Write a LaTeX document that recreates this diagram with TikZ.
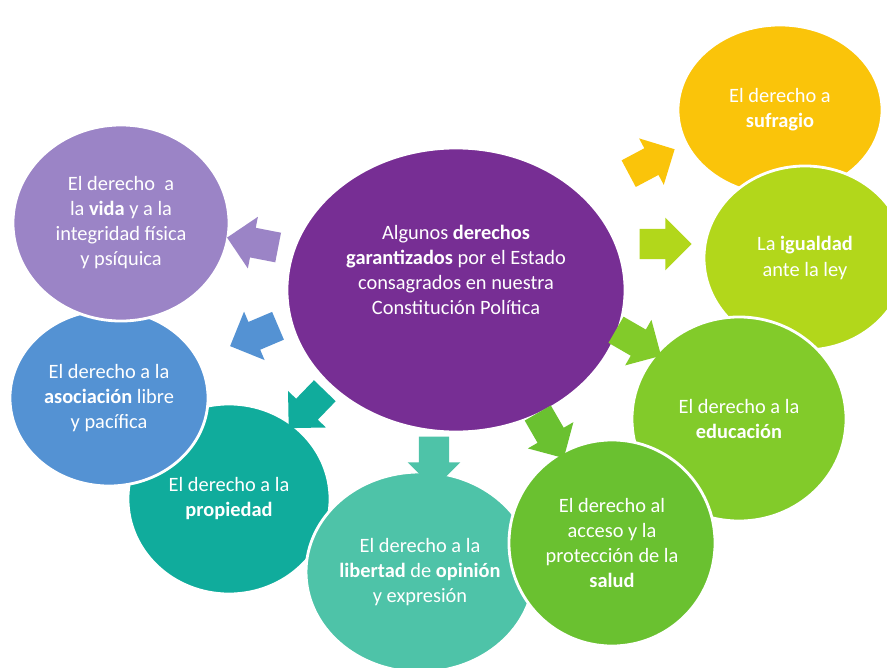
\documentclass[tikz,border=0pt]{standalone}
\usepackage{fontspec}
\setmainfont{Carlito}
\usetikzlibrary{shapes.geometric}
\usetikzlibrary{shapes.arrows}
\definecolor{cCentro}{RGB}{119,46,148}
\definecolor{cVida}{RGB}{155,132,198}
\definecolor{cAsoc}{RGB}{84,146,211}
\definecolor{cProp}{RGB}{16,172,156}
\definecolor{cLib}{RGB}{78,195,168}
\definecolor{cSalud}{RGB}{106,193,48}
\definecolor{cEduc}{RGB}{130,203,42}
\definecolor{cIgual}{RGB}{178,215,27}
\definecolor{cSufr}{RGB}{250,196,10}

\begin{document}
\begin{tikzpicture}[
				x=0.025cm, y=0.025cm,
				bubble/.style={ellipse, draw=white, line width=2pt, inner sep=0pt, text=white, align=center,
					font=\fontsize{14.5}{17.8}\selectfont},
				pointer/.style={single arrow, inner xsep=0pt, inner ysep=0.37cm, minimum height=1.3cm,
					minimum width=1.3cm, single arrow head extend=0.28cm},
			]
				\fill[white] (0,0) rectangle (887,667);
				\useasboundingbox (0,0) rectangle (887,667);
				\clip (0,0) rectangle (887,667);
				
				\node (sufr) [bubble, fill=cSufr, minimum width=5.1cm, minimum height=4.25cm] at (780,557) {El derecho a\\\textbf{sufragio}};
				\node (igual) [bubble, fill=cIgual, minimum width=5.05cm, minimum height=4.6cm] at (805,409) {La \textbf{igualdad}\\ante la ley};
				\node (educ) [bubble, fill=cEduc, minimum width=5.35cm, minimum height=5.1cm] at (739,248) {El derecho a la\\\textbf{educación}};
				\node (prop) [bubble, fill=cProp, minimum width=5.05cm, minimum height=4.75cm] at (229,168) {El derecho a la\\\textbf{propiedad}};
				\node (lib) [bubble, fill=cLib, minimum width=5.05cm, minimum height=5cm] at (420,95) {El derecho a la\\\textbf{libertad} de \textbf{opinión}\\y expresión};
				\node (salud) [bubble, fill=cSalud, minimum width=5.15cm, minimum height=5.15cm] at (612,124) {El derecho al\\acceso y la\\protección de la\\\textbf{salud}};
				\node (asoc) [bubble, fill=cAsoc, minimum width=4.95cm, minimum height=4.4cm] at (109,269) {El derecho a la\\\textbf{asociación} libre\\y pacífica};
				\node (vida) [bubble, fill=cVida, minimum width=5.4cm, minimum height=4.9cm] at (121,444) {El derecho\ \ a\\la \textbf{vida} y a la\\integridad física\\y psíquica};
				\node (ctr) [bubble, fill=cCentro, minimum width=8.45cm, minimum height=7.1cm] at (456,377) {};
				\node (ctrtxt) [text=white, align=center, font=\fontsize{14.5}{17.8}\selectfont] at (456,397)
					{Algunos \textbf{derechos}\\\textbf{garantizados} por el Estado\\consagrados en nuestra\\Constitución Política};
				
				% flechas hacia cada derecho
				\node (aSufr) [pointer, fill=cSufr, rotate=28] at (645,502) {};
				\node (aIgual) [pointer, fill=cIgual] at (658,423) {};
				\node (aEduc) [pointer, fill=cEduc, rotate=-30] at (632,328) {};
				\node (aSalud) [pointer, fill=cSalud, rotate=-60] at (547,238) {};
				\node (aLib) [pointer, fill=cLib, rotate=-90] at (434,212) {};
				\node (aProp) [pointer, fill=cProp, rotate=226] at (312,263) {};
				\node (aAsoc) [pointer, fill=cAsoc, rotate=203] at (261,334) {};
				\node (aVida) [pointer, fill=cVida, rotate=169] at (260,423) {};
			\end{tikzpicture}
\end{document}
